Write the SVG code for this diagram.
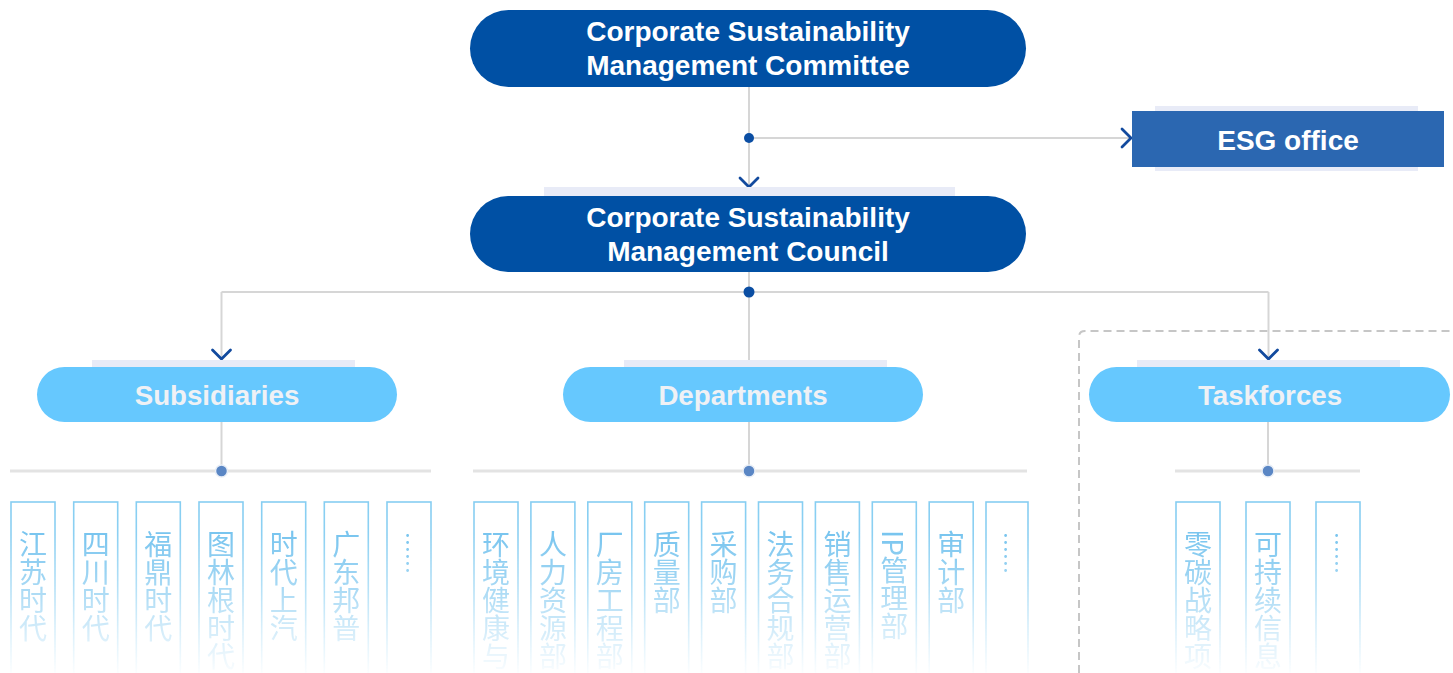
<svg xmlns="http://www.w3.org/2000/svg" width="1453" height="673" viewBox="0 0 1453 673">
<style>
.bg{fill:#ffffff}
.band{fill:#e8ebf7}
.dark{fill:#0050a4}
.esg{fill:#2b67b1}
.pill{fill:#66c8fe}
.t-main{font-family:"Liberation Sans",Arial,sans-serif;font-weight:bold;font-size:28px;fill:#ffffff;text-anchor:middle}
.t-pill{font-family:"Liberation Sans",Arial,sans-serif;font-weight:bold;font-size:27.7px;fill:#eff1f5;text-anchor:middle}
.conn{fill:none;stroke:#d6d6d6;stroke-width:2}
.sub{fill:none;stroke:#e3e3e3;stroke-width:3}
.dot1{fill:#0b4ea3}
.dot2{fill:#5a86c4;stroke:#e8eef6;stroke-width:1.5}
.col{fill:none;stroke:#86cef2;stroke-width:1.6}
.ct{font-family:"Noto Sans CJK SC","Noto Sans",sans-serif;font-size:28px;fill:#72c2ee;writing-mode:vertical-rl;text-orientation:mixed;text-anchor:start}
.dots{font-size:21px}
.dash{fill:none;stroke:#c6c6c6;stroke-width:2;stroke-dasharray:8 5}
</style>
<defs>
<marker id="chev" viewBox="0 0 12 21" markerWidth="12" markerHeight="21" refX="10.5" refY="10.5" orient="auto" markerUnits="userSpaceOnUse" overflow="visible">
<path d="M1.5,1.5 L10.5,10.5 L1.5,19.5" fill="none" stroke="#124a9e" stroke-width="2.8" stroke-linecap="round" stroke-linejoin="miter"/>
</marker>
<linearGradient id="fadeGrad" gradientUnits="userSpaceOnUse" x1="0" y1="500" x2="0" y2="673">
<stop offset="0" stop-color="#ffffff"/>
<stop offset="0.2" stop-color="#f2f2f2"/>
<stop offset="0.5" stop-color="#a0a0a0"/>
<stop offset="0.75" stop-color="#505050"/>
<stop offset="1" stop-color="#080808"/>
</linearGradient>
<mask id="fade" maskUnits="userSpaceOnUse" x="0" y="490" width="1453" height="183">
<rect x="0" y="490" width="1453" height="183" fill="url(#fadeGrad)"/>
</mask>
</defs>
<rect class="bg" x="0" y="0" width="1453" height="673"/>

<path class="dash" d="M1079,673 V337 Q1079,331 1085,331 H1453"/>

<g id="connectors">
<path class="conn" d="M749,87 V187" marker-end="url(#chev)"/>
<path class="conn" d="M749,138 H1131" marker-end="url(#chev)"/>
<path class="conn" d="M749,272 V367"/>
<path class="conn" d="M221.5,292 H1268.5"/>
<path class="conn" d="M221.5,292 V359" marker-end="url(#chev)"/>
<path class="conn" d="M1268.5,292 V359" marker-end="url(#chev)"/>
<path class="conn" d="M221.5,422 V471"/>
<path class="conn" d="M749,422 V471"/>
<path class="conn" d="M1268,422 V471"/>
<path class="sub" d="M10,471 H431"/>
<path class="sub" d="M473,471 H1027"/>
<path class="sub" d="M1175,471 H1360"/>
<circle class="dot1" cx="749" cy="138" r="5"/>
<circle class="dot1" cx="749" cy="292" r="5.5"/>
<circle class="dot2" cx="221.5" cy="471" r="6"/>
<circle class="dot2" cx="749" cy="471" r="6"/>
<circle class="dot2" cx="1268" cy="471" r="6"/>
</g>

<g id="committee">
<rect class="dark" x="470" y="10" width="556" height="77" rx="38.5"/>
<text class="t-main" x="748" y="41">Corporate Sustainability</text>
<text class="t-main" x="748" y="75">Management Committee</text>
</g>

<g id="esg-office">
<rect class="band" x="1155" y="106" width="263" height="65"/>
<rect class="esg" x="1132" y="111" width="312" height="56"/>
<text class="t-main" x="1288" y="149.5" font-size="27.5">ESG office</text>
</g>

<g id="council">
<rect class="band" x="544" y="187" width="411" height="20"/>
<rect class="dark" x="470" y="196" width="556" height="76" rx="38"/>
<text class="t-main" x="748" y="227">Corporate Sustainability</text>
<text class="t-main" x="748" y="261">Management Council</text>
</g>

<g id="subsidiaries">
<rect class="band" x="92" y="360" width="263" height="20"/>
<rect class="pill" x="37" y="367" width="360" height="55" rx="27.5"/>
<text class="t-pill" x="217" y="405">Subsidiaries</text>
</g>

<g id="departments">
<rect class="band" x="624" y="360" width="263" height="20"/>
<rect class="pill" x="563" y="367" width="360" height="55" rx="27.5"/>
<text class="t-pill" x="743" y="405">Departments</text>
</g>

<g id="taskforces">
<rect class="band" x="1137" y="360" width="263" height="20"/>
<rect class="pill" x="1089" y="367" width="361" height="55" rx="27.5"/>
<text class="t-pill" x="1270" y="405">Taskforces</text>
</g>

<g id="subsidiary-list" mask="url(#fade)">
<rect class="col" x="11" y="502" width="44" height="200"/><text class="ct" x="33" y="530">江苏时代</text>
<rect class="col" x="73.7" y="502" width="44" height="200"/><text class="ct" x="95.7" y="530">四川时代</text>
<rect class="col" x="136.3" y="502" width="44" height="200"/><text class="ct" x="158.3" y="530">福鼎时代</text>
<rect class="col" x="199" y="502" width="44" height="200"/><text class="ct" x="221" y="530">图林根时代</text>
<rect class="col" x="261.7" y="502" width="44" height="200"/><text class="ct" x="283.7" y="530">时代上汽</text>
<rect class="col" x="324.3" y="502" width="44" height="200"/><text class="ct" x="346.3" y="530">广东邦普</text>
<rect class="col" x="387" y="502" width="44" height="200"/><text class="ct dots" x="409" y="532">……</text>
</g>

<g id="department-list" mask="url(#fade)">
<rect class="col" x="474" y="502" width="44" height="200"/><text class="ct" x="496" y="530">环境健康与</text>
<rect class="col" x="530.9" y="502" width="44" height="200"/><text class="ct" x="552.9" y="530">人力资源部</text>
<rect class="col" x="587.8" y="502" width="44" height="200"/><text class="ct" x="609.8" y="530">厂房工程部</text>
<rect class="col" x="644.7" y="502" width="44" height="200"/><text class="ct" x="666.7" y="530">质量部</text>
<rect class="col" x="701.6" y="502" width="44" height="200"/><text class="ct" x="723.6" y="530">采购部</text>
<rect class="col" x="758.5" y="502" width="44" height="200"/><text class="ct" x="780.5" y="530">法务合规部</text>
<rect class="col" x="815.4" y="502" width="44" height="200"/><text class="ct" x="837.4" y="530">销售运营部</text>
<rect class="col" x="872.3" y="502" width="44" height="200"/><text class="ct" x="894.3" y="530">IP管理部</text>
<rect class="col" x="929.2" y="502" width="44" height="200"/><text class="ct" x="951.2" y="530">审计部</text>
<rect class="col" x="986" y="502" width="42" height="200"/><text class="ct dots" x="1007" y="532">……</text>
</g>

<g id="taskforce-list" mask="url(#fade)">
<rect class="col" x="1176" y="502" width="44" height="200"/><text class="ct" x="1198" y="530">零碳战略项</text>
<rect class="col" x="1246" y="502" width="44" height="200"/><text class="ct" x="1268" y="530">可持续信息</text>
<rect class="col" x="1316" y="502" width="44" height="200"/><text class="ct dots" x="1338" y="532">……</text>
</g>
</svg>
